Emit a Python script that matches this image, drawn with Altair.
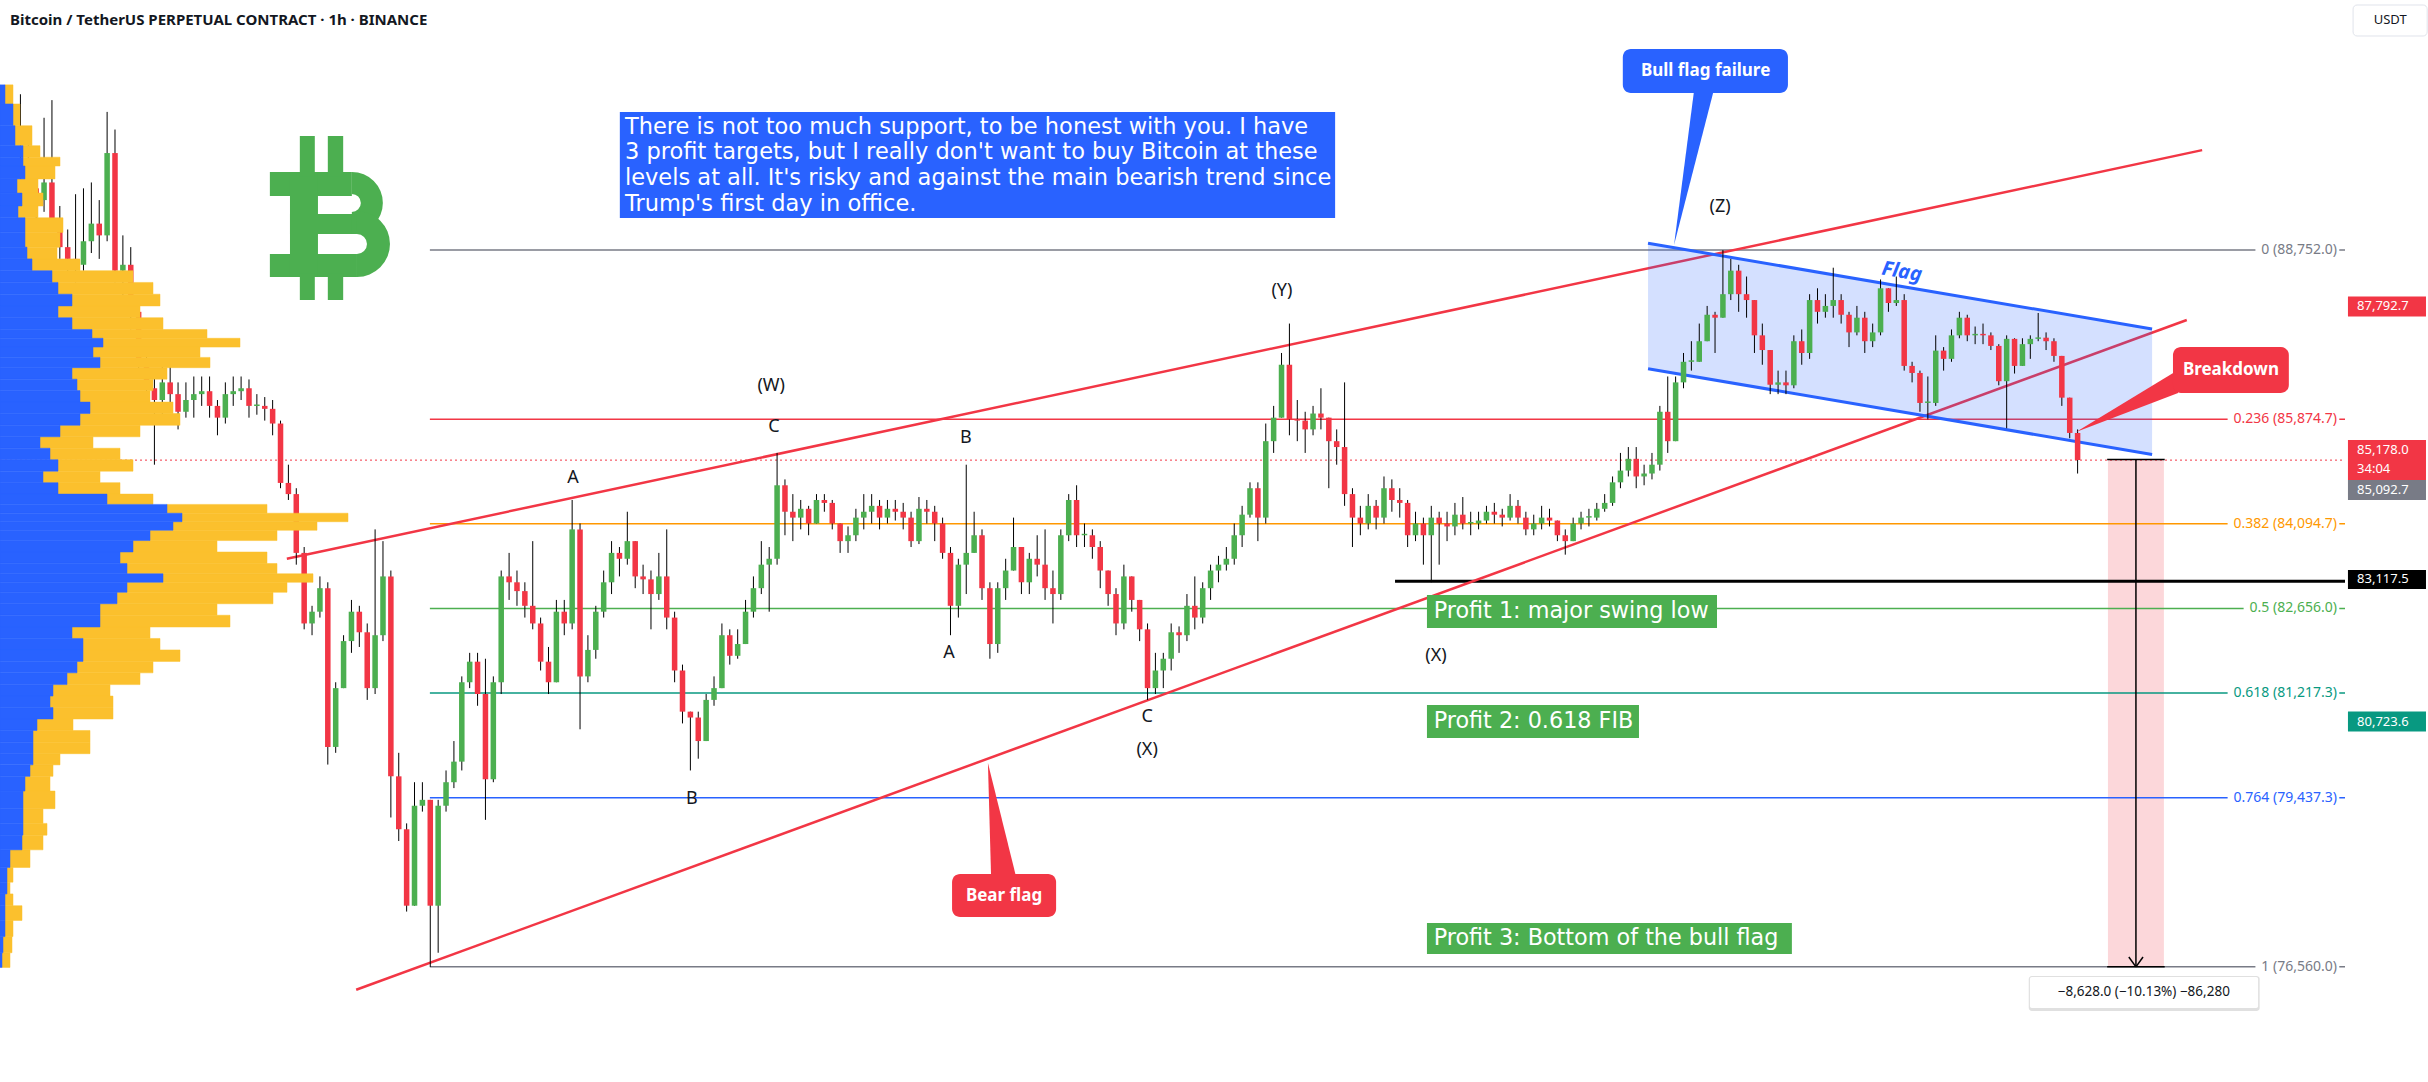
import math
import altair as alt
import pandas as pd

FONT = "Noto Sans"
NOTE_FONT = "DejaVu Sans"
TXT = "#131722"
GREEN = "#4CAF50"
RED = "#F23645"
BLUE = "#2962FF"
ORANGE_VP = "#FBC02D"
GRAY = "#787B86"
TEAL = "#089981"

# ---------------- candles: 2-hour bars (thousand USDT) ----------------
BAR_START = "2025-03-06 16:00"
ORIGIN = "2025-03-07 00:00"          # x axis = hours since this moment
first_open = 90.0
closes = [
    90.3, 89.8, 89.6, 89.9, 89.25, 88.8, 88.6, 88.5, 88.9, 89.2, 89.0, 90.4,
    88.4, 88.5, 87.7, 86.9, 86.4, 86.2, 86.5, 86.3, 86.0, 86.2, 86.3, 86.35,
    86.1, 85.9, 86.3, 86.35, 86.4, 86.1, 86.1, 86.05, 85.8, 84.79, 84.6, 83.6,
    82.4, 82.6, 83.0, 80.3, 81.3, 82.1, 82.6, 82.25, 81.3, 82.2, 83.2, 79.8,
    78.9, 77.6, 79.3, 79.4, 77.6, 79.3, 79.7, 80.05, 81.4, 81.75, 81.2, 79.75,
    81.4, 83.2, 83.1, 82.95, 82.7, 82.4, 81.75, 81.4, 82.6, 82.4, 84.0, 81.5,
    81.95, 82.6, 83.1, 83.6, 83.5, 83.8, 83.2, 83.15, 82.9, 83.2, 82.5, 81.6,
    80.9, 80.8, 80.4, 81.1, 81.3, 82.2, 81.85, 82.05, 82.6, 83.0, 83.4, 83.5,
    84.75, 84.3, 84.2, 84.35, 84.1, 84.5, 84.45, 84.1, 83.8, 83.9, 84.2, 84.3,
    84.4, 84.2, 84.35, 84.3, 84.2, 83.8, 84.35, 84.3, 84.1, 83.6, 82.7, 83.4,
    83.6, 83.9, 83.0, 82.05, 83.0, 83.3, 83.7, 83.1, 83.5, 83.4, 83.0, 82.9,
    83.9, 84.5, 83.9, 83.9, 83.7, 83.3, 82.9, 82.4, 83.2, 82.8, 82.3, 81.3,
    81.6, 81.8, 82.25, 82.2, 82.7, 82.5, 83.0, 83.3, 83.4, 83.5, 83.9, 84.25,
    84.7, 84.2, 85.5, 85.9, 86.8, 85.87, 85.85, 85.7, 85.97, 85.9, 85.5, 85.4,
    84.6, 84.2, 84.1, 84.4, 84.2, 84.7, 84.5, 84.45, 83.9, 84.1, 83.9, 84.2,
    84.1, 84.05, 84.25, 84.1, 84.1, 84.15, 84.3, 84.25, 84.2, 84.4, 84.2, 84.0,
    84.1, 84.2, 84.15, 83.9, 83.8, 84.1, 84.2, 84.2, 84.35, 84.45, 84.8, 85.0,
    85.2, 84.9, 84.95, 85.1, 86.0, 85.5, 86.5, 86.85, 86.85, 87.2, 87.65, 87.6,
    88.0, 88.4, 88.0, 87.9, 87.3, 87.05, 86.46, 86.5, 86.45, 87.2, 87.0, 87.9,
    87.7, 87.8, 87.9, 87.65, 87.35, 87.6, 87.2, 87.35, 88.1, 87.85, 87.9, 86.78,
    86.66, 86.15, 86.15, 87.04, 86.9, 87.3, 87.6, 87.3, 87.32, 87.3, 87.12, 86.52,
    87.24, 86.78, 87.15, 87.24, 87.26, 87.2, 86.95, 86.24, 85.64, 85.18,
]
highs = [
    91.4, 90.6, 90.2, 91.0, 91.3, 89.5, 89.1, 89.7, 89.8, 89.9, 89.6, 91.1,
    90.8, 89.0, 88.8, 87.9, 87.0, 86.6, 86.8, 86.9, 86.5, 86.5, 86.6, 86.6,
    86.6, 86.2, 86.5, 86.6, 86.6, 86.55, 86.3, 86.25, 86.2, 85.85, 85.1, 84.7,
    83.7, 82.7, 83.2, 83.1, 81.4, 82.2, 82.8, 82.7, 82.4, 84.0, 83.8, 83.3,
    80.2, 79.0, 79.7, 79.7, 79.4, 79.4, 79.9, 80.4, 81.5, 81.9, 81.9, 81.8,
    81.5, 83.3, 83.6, 83.3, 83.1, 83.8, 82.5, 82.0, 82.8, 82.8, 84.5, 84.1,
    82.2, 82.7, 83.3, 83.8, 83.7, 84.3, 83.7, 83.4, 83.3, 83.6, 84.0, 82.6,
    81.7, 80.9, 80.9, 81.2, 81.5, 82.4, 82.3, 82.3, 82.8, 83.2, 83.8, 83.7,
    85.3, 84.85, 84.6, 84.5, 84.4, 84.6, 84.6, 84.5, 84.1, 84.05, 84.35, 84.6,
    84.6, 84.5, 84.5, 84.5, 84.45, 84.3, 84.55, 84.5, 84.4, 84.2, 83.7, 83.5,
    85.1, 84.3, 84.0, 83.1, 83.1, 83.5, 84.2, 83.7, 83.6, 83.9, 84.0, 83.3,
    84.0, 84.6, 84.75, 84.1, 84.0, 83.8, 83.3, 83.0, 83.4, 83.2, 82.8, 82.4,
    81.9, 81.9, 82.4, 82.35, 82.9, 83.2, 83.1, 83.4, 83.55, 83.7, 84.1, 84.4,
    84.8, 84.8, 85.8, 86.1, 87.0, 87.5, 86.2, 86.0, 86.1, 86.4, 85.9, 85.7,
    86.5, 84.7, 84.4, 84.6, 84.5, 84.9, 84.85, 84.7, 84.5, 84.3, 84.2, 84.4,
    84.3, 84.3, 84.45, 84.55, 84.3, 84.3, 84.4, 84.45, 84.35, 84.6, 84.5, 84.3,
    84.25, 84.4, 84.35, 84.15, 84.0, 84.2, 84.3, 84.35, 84.45, 84.6, 84.9, 85.3,
    85.4, 85.4, 85.1, 85.3, 86.1, 86.6, 86.6, 87.0, 87.2, 87.5, 87.8, 87.7,
    88.75, 88.6, 88.5, 88.3, 87.9, 87.5, 86.9, 86.7, 86.7, 87.3, 87.4, 88.0,
    88.1, 88.0, 88.45, 88.0, 87.7, 87.8, 87.7, 87.5, 88.25, 88.1, 88.3, 88.0,
    86.85, 86.7, 86.6, 87.3, 87.1, 87.4, 87.7, 87.65, 87.45, 87.5, 87.35, 87.15,
    87.3, 87.25, 87.25, 87.3, 87.68, 87.35, 87.25, 86.85, 86.1, 85.7,
]
lows = [
    89.7, 89.5, 89.2, 89.4, 89.1, 88.6, 88.3, 88.2, 88.4, 88.7, 88.6, 88.9,
    88.2, 87.9, 87.4, 86.6, 86.1, 85.1, 85.8, 86.0, 85.7, 85.9, 85.9, 86.1,
    85.9, 85.6, 85.8, 86.1, 86.2, 85.9, 85.95, 85.85, 85.6, 84.7, 84.5, 83.4,
    82.3, 82.2, 82.5, 80.0, 80.2, 81.5, 81.9, 82.0, 81.1, 81.2, 82.1, 79.1,
    78.7, 77.5, 77.6, 79.2, 76.56, 76.8, 79.2, 79.6, 79.9, 81.3, 81.0, 79.06,
    79.7, 81.2, 82.8, 82.7, 82.5, 82.3, 81.6, 81.2, 81.4, 82.2, 82.3, 80.6,
    81.4, 81.8, 82.5, 82.9, 83.2, 83.4, 83.0, 82.9, 82.3, 82.8, 82.3, 81.4,
    80.7, 79.9, 80.1, 80.4, 81.0, 81.4, 81.7, 81.8, 82.1, 82.5, 82.9, 82.6,
    83.4, 83.9, 83.8, 84.0, 83.9, 84.1, 84.3, 84.0, 83.6, 83.6, 83.8, 84.0,
    84.1, 84.0, 84.1, 84.15, 84.0, 83.7, 83.75, 84.1, 83.8, 83.5, 82.2, 82.5,
    82.9, 83.6, 82.8, 81.8, 81.9, 82.8, 83.4, 82.9, 82.9, 83.2, 82.8, 82.4,
    82.8, 83.8, 83.7, 83.7, 83.5, 83.0, 82.7, 82.2, 82.3, 82.6, 82.1, 81.1,
    81.2, 81.3, 81.6, 81.9, 82.1, 82.3, 82.4, 82.8, 83.1, 83.3, 83.4, 83.7,
    84.2, 83.8, 84.1, 85.3, 85.9, 85.6, 85.5, 85.3, 85.6, 85.7, 84.7, 85.1,
    84.4, 83.7, 83.9, 84.0, 84.0, 84.1, 84.3, 84.2, 83.7, 83.8, 83.4, 83.1,
    83.4, 83.8, 83.9, 84.0, 83.9, 84.0, 84.1, 84.1, 84.05, 84.15, 84.1, 83.9,
    83.9, 84.0, 84.05, 83.8, 83.57, 83.8, 84.0, 84.05, 84.15, 84.3, 84.4, 84.7,
    84.9, 84.7, 84.75, 84.85, 85.0, 85.3, 85.5, 86.4, 86.7, 86.9, 87.2, 87.0,
    87.9, 87.9, 87.7, 87.6, 87.0, 86.8, 86.3, 86.3, 86.3, 86.4, 86.8, 86.9,
    87.5, 87.6, 87.6, 87.5, 87.1, 87.3, 87.0, 87.1, 87.3, 87.7, 87.8, 86.7,
    86.5, 86.0, 85.87, 86.1, 86.7, 86.85, 87.25, 87.2, 87.15, 87.15, 87.05, 86.45,
    85.72, 86.65, 86.8, 86.9, 87.2, 87.05, 86.85, 86.1, 85.55, 84.95,
]

# ---------------- visible-range volume profile (relative volume per price row) ----------------
profile_price = [91.41, 91.06, 90.67, 90.38, 90.28, 90.08, 89.84, 89.6, 89.4, 89.2, 88.9, 88.7,
                 88.5, 88.3, 88.1, 87.9, 87.7, 87.5, 87.3, 87.2, 87.0, 86.85, 86.65, 86.46,
                 86.26, 86.07, 85.87, 85.67, 85.48, 85.28, 85.09, 84.89, 84.7, 84.5, 84.35, 84.2,
                 84.06, 83.91, 83.71, 83.52, 83.32, 83.17, 83.03, 82.83, 82.64, 82.44, 82.24, 82.05,
                 81.85, 81.66, 81.46, 81.26, 81.07, 80.87, 80.68, 80.48, 80.28, 80.09, 79.9, 79.7,
                 79.4, 79.1, 78.9, 78.7, 78.4, 78.1, 77.9, 77.7, 77.5, 77.2, 76.95, 76.65]
profile_down = [5, 13, 15, 23, 23, 25, 17, 22, 18, 25, 25, 27, 32, 52, 58, 72, 58, 72, 92, 103,
                93, 100, 72, 77, 80, 90, 80, 60, 40, 50, 58, 43, 58, 107, 167, 182, 173, 150, 133, 120,
                127, 163, 127, 117, 100, 100, 72, 83, 83, 77, 67, 53, 50, 53, 37, 33, 33, 33, 30, 25,
                23, 23, 23, 22, 10, 7, 7, 5, 5, 5, 3, 2]
profile_total = [13, 20, 32, 40, 60, 55, 38, 43, 38, 63, 60, 57, 80, 133, 153, 160, 140, 163, 207, 240,
                 200, 210, 167, 153, 150, 173, 180, 140, 93, 120, 133, 100, 120, 153, 267, 348, 317, 277, 217, 267,
                 277, 313, 287, 273, 217, 230, 150, 160, 180, 153, 140, 110, 113, 113, 73, 90, 90, 60, 53, 50,
                 55, 43, 47, 43, 30, 13, 10, 13, 22, 13, 12, 10]

# ---------------- Fibonacci retracement ----------------
fib_ratio = ["0", "0.236", "0.382", "0.5", "0.618", "0.764", "1"]
fib_price = [88752.0, 85874.7, 84094.7, 82656.0, 81217.3, 79437.3, 76560.0]
fib_color = [GRAY, RED, "#FF9800", GREEN, TEAL, BLUE, GRAY]
fib_start_hour = 96.9

# ---------------- Elliott wave labels (hour, price) ----------------
wave_text = ["A", "B", "C", "(W)", "B", "A", "C", "(X)", "(Y)", "(X)", "(Z)"]
wave_hour = [133.2, 163.4, 184.2, 183.5, 232.9, 228.6, 278.9, 278.9, 313.1, 352.2, 424.3]
wave_price = [84874, 79415, 85741, 86439, 85554, 81898, 80809, 80248, 88054, 81847, 89483]

# ---------------- trend lines (hour, price) ----------------
wedge_upper = [(60.6, 83500), (546.6, 90450)]
wedge_lower = [(78.2, 76170), (542.7, 87560)]
flag_upper = [(406.0, 88866), (533.9, 87408)]
flag_lower = [(406.0, 86733), (533.9, 85274)]

current_price = 85178.0
swing_low_line = 83117.5

note_lines = [
    "There is not too much support, to be honest with you. I have",
    "3 profit targets, but I really don't want to buy Bitcoin at these",
    "levels at all. It's risky and against the main bearish trend since",
    "Trump's first day in office.",
]
profit_text = ["Profit 1: major swing low", "Profit 2: 0.618 FIB", "Profit 3: Bottom of the bull flag"]

axis_prices = [76000, 77000, 78000, 79000, 80000, 81000, 82000, 84000, 86000,
               87000, 88000, 89000, 90000, 91000, 92000]
day_ticks = list(range(0, 577, 24))

# ---------------- scales ----------------
PX_PER_HOUR = 3.941
USD_PER_PX = 17.007
X_DOM = [-12.18, 582.85]
Y_DOM = [75486, 93003]
xs = alt.Scale(domain=X_DOM, nice=False, zero=False)
ys = alt.Scale(domain=Y_DOM, nice=False, zero=False)


def X(f):
    return alt.X(f, type="quantitative", scale=xs, axis=None)


def Y(f):
    return alt.Y(f, type="quantitative", scale=ys, axis=None)


layers = []

# ---------- candle table ----------
n = len(closes)
times = pd.date_range(BAR_START, periods=n, freq="2h")
hours = ((times - pd.Timestamp(ORIGIN)) / pd.Timedelta(hours=1)).astype(float)
opens = [first_open] + closes[:-1]
rows = []
for hr, o, c, hi, lo in zip(hours, opens, closes, highs, lows):
    o, c, hi, lo = o * 1000, c * 1000, hi * 1000, lo * 1000
    hi = max(hi, o, c)
    lo = min(lo, o, c)
    b0, b1 = min(o, c), max(o, c)
    if b1 - b0 < 25:
        b1 = b0 + 25
    rows.append(dict(hm=hr + 1, bx=hr + 0.3, bx2=hr + 1.7, lo=lo, hi=hi, blo=b0, bhi=b1,
                     col=GREEN if c >= o else RED))
cdf = pd.DataFrame(rows)

# ---------- measurement box (pink) ----------
meas = pd.DataFrame([dict(x=522.7, x2=536.9, y=current_price + 10, y2=76560.0)])
layers.append(alt.Chart(meas).mark_rect(color=RED, opacity=0.2).encode(x=X("x"), x2="x2", y=Y("y"), y2="y2"))

# ---------- fib lines ----------
fdf = pd.DataFrame(dict(p=fib_price, col=fib_color, x=fib_start_hour, x2=X_DOM[1]))
layers.append(alt.Chart(fdf).mark_rule(strokeWidth=1.5).encode(
    x=X("x"), x2="x2", y=Y("p"), color=alt.Color("col:N", scale=None)))

# swing-low line
sl = pd.DataFrame([dict(x=341.8, x2=X_DOM[1], p=swing_low_line)])
layers.append(alt.Chart(sl).mark_rule(strokeWidth=3, color="#000000").encode(x=X("x"), x2="x2", y=Y("p")))

# current price dotted line
cp = pd.DataFrame([dict(x=X_DOM[0], x2=X_DOM[1], p=current_price)])
layers.append(alt.Chart(cp).mark_rule(strokeWidth=1, color=RED, strokeDash=[2, 3]).encode(
    x=X("x"), x2="x2", y=Y("p")))

# ---------- red wedge ----------
wdf = pd.DataFrame([dict(x=a[0], y=a[1], x2=b[0], y2=b[1]) for a, b in (wedge_upper, wedge_lower)])
layers.append(alt.Chart(wdf).mark_rule(strokeWidth=2.5, color=RED).encode(
    x=X("x"), y=Y("y"), x2="x2", y2="y2"))

# ---------- flag channel ----------
fill = pd.DataFrame(dict(h=[flag_upper[0][0], flag_upper[1][0]],
                         lo=[flag_lower[0][1], flag_lower[1][1]],
                         hi=[flag_upper[0][1], flag_upper[1][1]]))
layers.append(alt.Chart(fill).mark_area(color=BLUE, opacity=0.2, orient="vertical").encode(
    x=X("h"), y=Y("lo"), y2="hi"))
bdf = pd.DataFrame([dict(x=a[0], y=a[1], x2=b[0], y2=b[1]) for a, b in (flag_upper, flag_lower)])
layers.append(alt.Chart(bdf).mark_rule(strokeWidth=3, color=BLUE).encode(
    x=X("x"), y=Y("y"), x2="x2", y2="y2"))

# ---------- candles ----------
x_axis = alt.Axis(values=day_ticks, labelExpr="toString(7 + datum.value / 24)", labelFontSize=13,
                  labelColor=TXT, labelFont=FONT, ticks=False, domain=False, grid=False, title=None,
                  labelPadding=35, labelBaseline="middle", labelFlush=False, labelOverlap=False,
                  labelFontWeight={"condition": {"test": "(datum.value / 24) % 7 == 3", "value": "bold"},
                                   "value": "normal"})
y_axis = alt.Axis(orient="right", values=axis_prices, format=",.1f", labelFontSize=13, labelColor=TXT,
                  labelFont=FONT, ticks=False, domain=False, grid=False, title=None, labelPadding=13,
                  labelAlign="left", labelBaseline="middle", labelOverlap=False, labelFlush=False)
layers.append(alt.Chart(cdf).mark_rule(color="#000000", strokeWidth=1).encode(
    x=X("hm"), y=Y("lo"), y2="hi"))
layers.append(alt.Chart(cdf).mark_bar().encode(
    x=alt.X("bx:Q", scale=xs, axis=x_axis), x2="bx2",
    y=alt.Y("blo:Q", scale=ys, axis=y_axis), y2="bhi",
    color=alt.Color("col:N", scale=None)))

# ---------- volume profile ----------
pp = [p * 1000 for p in profile_price]
prow = []
for i, p in enumerate(pp):
    up = (pp[i - 1] + p) / 2 if i > 0 else p + 150
    dn = (p + pp[i + 1]) / 2 if i < len(pp) - 1 else p - 100
    prow.append(dict(top=up, bot=dn, x0=X_DOM[0],
                     xb=X_DOM[0] + profile_down[i] / PX_PER_HOUR,
                     xt=X_DOM[0] + profile_total[i] / PX_PER_HOUR))
pdf = pd.DataFrame(prow)
layers.append(alt.Chart(pdf).mark_rect(color=ORANGE_VP, stroke=ORANGE_VP, strokeWidth=0.5).encode(
    x=X("xb"), x2="xt", y=Y("bot"), y2="top"))
layers.append(alt.Chart(pdf).mark_rect(color=BLUE, stroke=BLUE, strokeWidth=0.5).encode(
    x=X("x0"), x2="xb", y=Y("bot"), y2="top"))

# ---------- bitcoin logo (drawn from blocks and half rings) ----------
logo_blocks = pd.DataFrame([
    dict(x=56.3, x2=77.1, y=90078, y2=89670),   # top bar with serif
    dict(x=56.3, x2=78.4, y=88684, y2=88292),   # bottom bar with serif
    dict(x=61.4, x2=68.5, y=90078, y2=88292),   # stem
    dict(x=61.4, x2=78.4, y=89364, y2=89024),   # middle bar
    dict(x=63.9, x2=67.7, y=90690, y2=90000),   # upper strokes
    dict(x=71.0, x2=74.9, y=90690, y2=90000),
    dict(x=63.9, x2=67.7, y=88350, y2=87901),   # lower strokes
    dict(x=71.0, x2=74.9, y=88350, y2=87901),
])
layers.append(alt.Chart(logo_blocks).mark_rect(color=GREEN).encode(x=X("x"), x2="x2", y=Y("y"), y2="y2"))
bowl_up = pd.DataFrame([dict(x=77.1, y=89551)])
layers.append(alt.Chart(bowl_up).mark_arc(color=GREEN, theta=0, theta2=math.pi, radius=31, radius2=9).encode(
    x=X("x"), y=Y("y")))
bowl_dn = pd.DataFrame([dict(x=78.4, y=88854)])
layers.append(alt.Chart(bowl_dn).mark_arc(color=GREEN, theta=0, theta2=math.pi, radius=33, radius2=10).encode(
    x=X("x"), y=Y("y")))

# ---------- note box ----------
nb = pd.DataFrame([dict(x=145.1, x2=326.6, y=91099, y2=89296)])
layers.append(alt.Chart(nb).mark_rect(color=BLUE).encode(x=X("x"), x2="x2", y=Y("y"), y2="y2"))
nt = pd.DataFrame(dict(t=note_lines, x=146.4, y=[90844, 90410, 89976, 89542]))
layers.append(alt.Chart(nt).mark_text(font=NOTE_FONT, fontSize=22.5, color="white", align="left",
                                       baseline="middle").encode(x=X("x"), y=Y("y"), text="t:N"))

# ---------- profit boxes ----------
pb = pd.DataFrame(dict(x=349.9, x2=[423.5, 403.7, 442.5], y=[82884, 81014, 77306],
                       y2=[82323, 80452, 76779], t=profit_text, ty=[82604, 80733, 77043], tx=351.6))
layers.append(alt.Chart(pb).mark_rect(color=GREEN).encode(x=X("x"), x2="x2", y=Y("y"), y2="y2"))
layers.append(alt.Chart(pb).mark_text(font=NOTE_FONT, fontSize=22.3, color="white", align="left",
                                       baseline="middle").encode(x=X("tx"), y=Y("ty"), text="t:N"))

# ---------- Elliott wave labels ----------
ew = pd.DataFrame(dict(t=wave_text, x=wave_hour, y=wave_price))
layers.append(alt.Chart(ew).mark_text(font=FONT, fontSize=18, color=TXT, align="center",
                                       baseline="middle").encode(x=X("x"), y=Y("y"), text="t:N"))

# ---------- callouts ----------
bull_tail = pd.DataFrame(dict(p=[91473, 88837], xa=[417.7, 412.6], xb=[422.7, 412.6]))
layers.append(alt.Chart(bull_tail).mark_area(color=BLUE, orient="horizontal").encode(
    y=Y("p"), x=X("xa"), x2="xb"))
bear_tail = pd.DataFrame(dict(p=[78105, 80027], xa=[239.3, 238.5], xb=[245.6, 238.5]))
layers.append(alt.Chart(bear_tail).mark_area(color=RED, orient="horizontal").encode(
    y=Y("p"), x=X("xa"), x2="xb"))
brk_tail = pd.DataFrame(dict(h=[514.6, 540.5], lo=[85656, 86320], hi=[85656, 86711]))
layers.append(alt.Chart(brk_tail).mark_area(color=RED, orient="vertical").encode(
    x=X("h"), y=Y("lo"), y2="hi"))
cb = pd.DataFrame([
    dict(x=399.6, x2=441.5, y=92170, y2=91422, col=BLUE, t="Bull flag failure", tx=420.6, ty=91796),
    dict(x=539.2, x2=568.6, y=87102, y2=86320, col=RED, t="Breakdown", tx=553.9, ty=86711),
    dict(x=229.4, x2=255.8, y=78139, y2=77408, col=RED, t="Bear flag", tx=242.6, ty=77773),
])
layers.append(alt.Chart(cb).mark_rect(cornerRadius=8).encode(
    x=X("x"), x2="x2", y=Y("y"), y2="y2", color=alt.Color("col:N", scale=None)))
layers.append(alt.Chart(cb).mark_text(font=FONT, fontSize=17, fontWeight="bold", color="white",
                                       align="center", baseline="middle").encode(
    x=X("tx"), y=Y("ty"), text="t:N"))

# Flag label
fl = pd.DataFrame([dict(x=470.4, y=88378, t="Flag")])
layers.append(alt.Chart(fl).mark_text(font=FONT, fontSize=20, fontStyle="italic", fontWeight="bold",
                                       color=BLUE, angle=9.6, align="center", baseline="middle").encode(
    x=X("x"), y=Y("y"), text="t:N"))

# ---------- measurement lines & label ----------
ml = pd.DataFrame([
    dict(x=522.5, y=current_price + 10, x2=537.1, y2=current_price + 10),
    dict(x=522.5, y=76560, x2=537.1, y2=76560),
    dict(x=529.8, y=current_price + 10, x2=529.8, y2=76560),
    dict(x=528.0, y=76728, x2=529.8, y2=76560),
    dict(x=531.6, y=76728, x2=529.8, y2=76560),
])
layers.append(alt.Chart(ml).mark_rule(color="#000000", strokeWidth=1.5).encode(
    x=X("x"), y=Y("y"), x2="x2", y2="y2"))
mlab = pd.DataFrame([dict(x=502.9, x2=560.8, y=76388, y2=75861, t="\u22128,628.0 (\u221210.13%) \u221286,280",
                          tx=531.8, ty=76124, sx=502.6, sx2=561.2, sy=76405, sy2=75810)])
layers.append(alt.Chart(mlab).mark_rect(color="#000000", opacity=0.12, cornerRadius=3).encode(
    x=X("sx"), x2="sx2", y=Y("sy"), y2="sy2"))
layers.append(alt.Chart(mlab).mark_rect(color="white", cornerRadius=2).encode(
    x=X("x"), x2="x2", y=Y("y"), y2="y2"))
layers.append(alt.Chart(mlab).mark_text(font=FONT, fontSize=13.5, color=TXT, align="center",
                                         baseline="middle").encode(x=X("tx"), y=Y("ty"), text="t:N"))

# ---------- fib labels (line runs on behind a white label background) ----------
CW = {"(": 4.6, ")": 4.6, ".": 3.8, ",": 3.8, " ": 3.7}
flab = []
for r, p, c in zip(fib_ratio, fib_price, fib_color):
    t = f"{r} ({p:,.1f})"
    w = sum(CW.get(ch, 8.0) for ch in t) + 5
    flab.append(dict(t=t, p=p, col=c, tx=580.8, bx=580.8 - w / PX_PER_HOUR, bx2=581.4,
                     by=p + 8 * USD_PER_PX, by2=p - 8 * USD_PER_PX))
fl_df = pd.DataFrame(flab)
layers.append(alt.Chart(fl_df).mark_rect(color="white").encode(
    x=X("bx"), x2="bx2", y=Y("by"), y2="by2"))
layers.append(alt.Chart(fl_df).mark_text(font=FONT, fontSize=14, align="right", baseline="middle").encode(
    x=X("tx"), y=Y("p"), text="t:N", color=alt.Color("col:N", scale=None)))

# ---------- price-scale boxes ----------
pbx = pd.DataFrame([
    dict(y=87961, y2=87621, col=RED),
    dict(y=85520, y2=84840, col=RED),
    dict(y=84840, y2=84500, col=GRAY),
    dict(y=83310, y2=82986, col="#000000"),
    dict(y=80903, y2=80563, col=TEAL),
])
pbx["x"] = 583.6
pbx["x2"] = 603.4
layers.append(alt.Chart(pbx).mark_rect().encode(
    x=X("x"), x2="x2", y=Y("y"), y2="y2", color=alt.Color("col:N", scale=None)))
ptx = pd.DataFrame(dict(t=["87,792.7", "85,178.0", "34:04", "85,092.7", "83,117.5", "80,723.6"],
                        y=[87792.7, 85350, 85027, 84670, 83148, 80723.6], x=585.9))
layers.append(alt.Chart(ptx).mark_text(font=FONT, fontSize=13, color="white", align="left",
                                        baseline="middle").encode(x=X("x"), y=Y("y"), text="t:N"))
usdt = pd.DataFrame([dict(x=584.9, x2=603.7, y=92918, y2=92391, t="USDT", tx=594.3, ty=92655)])
layers.append(alt.Chart(usdt).mark_rect(color="white", stroke="#E0E3EB", strokeWidth=1, cornerRadius=4).encode(
    x=X("x"), x2="x2", y=Y("y"), y2="y2"))
layers.append(alt.Chart(usdt).mark_text(font=FONT, fontSize=13, color=TXT, align="center",
                                         baseline="middle").encode(x=X("tx"), y=Y("ty"), text="t:N"))

# ---------- title ----------
tt = pd.DataFrame([dict(x=-9.64, y=92663, t="Bitcoin / TetherUS PERPETUAL CONTRACT \u00b7 1h \u00b7 BINANCE")])
layers.append(alt.Chart(tt).mark_text(font=FONT, fontSize=15, fontWeight="bold", color=TXT, align="left",
                                       baseline="middle").encode(x=X("x"), y=Y("y"), text="t:N"))

chart = alt.layer(*layers).properties(
    width=2345, height=1030,
    padding={"left": 0, "top": 0, "right": 83, "bottom": 52},
    autosize=alt.AutoSizeParams(type="none"),
    background="white",
).configure_view(stroke=None)

chart.save("out.html", embed_options={"renderer": "svg", "actions": False})
